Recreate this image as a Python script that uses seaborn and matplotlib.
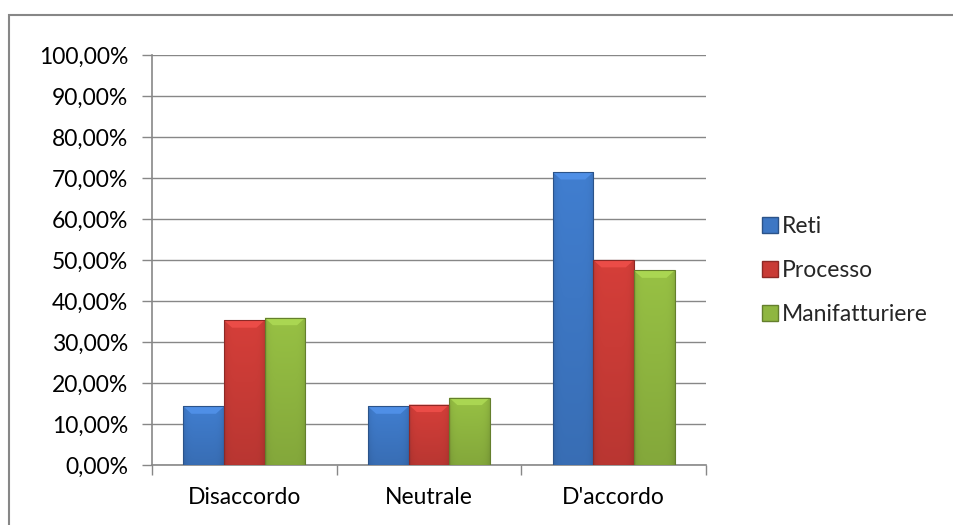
import numpy as np
import pandas as pd
import matplotlib
matplotlib.use("Agg")
import matplotlib.pyplot as plt
import matplotlib.colors as mcolors
from matplotlib.patches import Rectangle
from matplotlib.ticker import FuncFormatter, MultipleLocator
import seaborn as sns

# Survey answers by sector (share of respondents, %)
categories = ["Disaccordo", "Neutrale", "D'accordo"]
series = ["Reti", "Processo", "Manifatturiere"]
reti = [14.29, 14.29, 71.43]
processo = [35.29, 14.71, 50.00]
manifatturiere = [35.90, 16.41, 47.44]

colors = ["#3d77c4", "#c93b36", "#8fb640"]

df = pd.DataFrame({
    "Risposta": categories * 3,
    "Settore": [s for s in series for _ in categories],
    "Valore": reti + processo + manifatturiere,
})

sns.set_theme(style="white")
plt.rcParams["font.family"] = ["Lato", "DejaVu Sans"]

fig = plt.figure(figsize=(9.54, 5.25), dpi=100)
ax = fig.add_axes([0.1593, 0.1143, 0.5807, 0.7810])

sns.barplot(data=df, x="Risposta", y="Valore", hue="Settore",
            palette=colors, width=0.66, gap=0, ax=ax, legend=False,
            saturation=1, edgecolor="none", zorder=3)

# Shaded fill on each bar: lighter top, darker bottom and edges
for patch, base in zip(ax.patches, [c for c in colors for _ in categories]):
    x0, y0 = patch.get_x(), patch.get_y()
    w, h = patch.get_width(), patch.get_height()
    rgb = np.array(mcolors.to_rgb(base))
    ny, nx = 200, 60
    yy = np.linspace(1, 0, ny)[:, None]
    xx = np.linspace(-1, 1, nx)[None, :]
    shade = 0.92 + 0.14 * yy - 0.10 * (np.abs(xx) ** 6)
    img = np.clip(rgb[None, None, :] * shade[..., None], 0, 1)
    im = ax.imshow(img, extent=[x0, x0 + w, y0, y0 + h], aspect="auto",
                   origin="upper", zorder=3.5, interpolation="bilinear")
    im.set_clip_path(patch)
    # bevel highlight at the top
    bev = min(1.8, h * 0.3)
    ax.fill([x0, x0 + w, x0 + w * 0.8, x0 + w * 0.2],
            [y0 + h, y0 + h, y0 + h - bev, y0 + h - bev],
            color=np.clip(rgb * 1.12 + 0.04, 0, 1), zorder=3.6, lw=0)
    ax.add_patch(Rectangle((x0, y0), w, h, fill=False,
                           edgecolor=np.clip(rgb * 0.7, 0, 1), lw=0.8,
                           zorder=3.7))

ax.set_xlim(-0.5, 2.5)
ax.set_ylim(0, 100)
ax.yaxis.set_major_locator(MultipleLocator(10))
ax.yaxis.set_major_formatter(
    FuncFormatter(lambda v, _: f"{v:.2f}%".replace(".", ",")))
ax.set_xticks([0, 1, 2])
ax.set_xticklabels(categories)
ax.set_xlabel("")
ax.set_ylabel("")

ax.grid(axis="y", color="#878787", lw=1.0, zorder=0)
ax.grid(axis="x", visible=False)
for s in ["top", "right"]:
    ax.spines[s].set_visible(False)
for s in ["left", "bottom"]:
    ax.spines[s].set_color("#878787")
    ax.spines[s].set_linewidth(1.2)

ax.tick_params(axis="y", which="major", left=True, length=7, width=1,
               color="#878787", labelsize=16.5, pad=10, labelcolor="black")
ax.tick_params(axis="x", which="major", bottom=False, labelsize=16.5,
               pad=10, labelcolor="black")
# category separators on the x axis
ax.set_xticks([-0.5, 0.5, 1.5, 2.5], minor=True)
ax.tick_params(axis="x", which="minor", bottom=True, length=7, width=1,
               color="#878787")

# Legend
handles = [plt.Line2D([], [], marker="s", linestyle="none", markersize=11,
                      markerfacecolor=c,
                      markeredgecolor=np.clip(np.array(mcolors.to_rgb(c)) * 0.7, 0, 1))
           for c in colors]
fig.legend(handles, series, loc="center left", bbox_to_anchor=(0.787, 0.485),
           frameon=False, fontsize=16.5, handletextpad=0.05, labelspacing=1.0,
           handlelength=0.9, borderaxespad=0)

# Chart frame
fig.add_artist(Rectangle((9 / 954, -0.05), 1.2, 1 - 15 / 525 + 0.05,
                         transform=fig.transFigure, fill=False,
                         edgecolor="#878787", lw=1.5))

fig.savefig("out.png", dpi=100)
